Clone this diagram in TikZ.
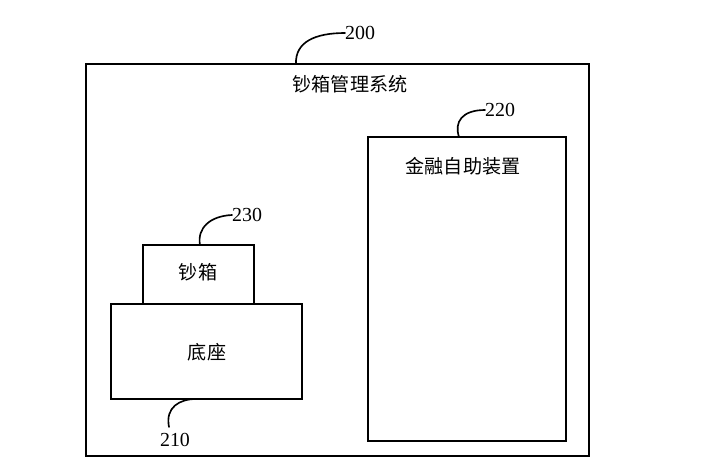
\documentclass[tikz,border=0pt]{standalone}
\usepackage{fontspec}
\setmainfont{Liberation Serif}
\newfontfamily\cjk{Noto Sans CJK SC}
\tikzset{
  frame/.style={draw=black, line width=1.4pt},
  leader/.style={draw=black, line width=1.4pt, line cap=round},
  boxtext/.style={font=\cjk\fontsize{16.3}{19}\selectfont},
  reflabel/.style={font=\fontsize{17}{20}\selectfont, inner sep=0pt},
}

\begin{document}
\begin{tikzpicture}[x=0.03cm, y=-0.03cm]
\useasboundingbox (0,0) rectangle (709,473);
% boxes
\draw[frame] (86,64) rectangle (589,456);
\draw[frame] (368,137) rectangle (566,441);
\draw[frame] (143,245) rectangle (254,304);
\draw[frame] (111,304) rectangle (302,399);
% texts
\node[boxtext] (system) at (350,84) {钞箱管理系统};
\node[boxtext] (device) at (463,166) {金融自助装置};
\node[boxtext] (cashbox) at (198,272) {钞箱};
\node[boxtext] (base) at (207,352) {底座};
% reference numbers
\node[reflabel, anchor=west] (n200) at (345,33) {200};
\node[reflabel, anchor=west] (n220) at (485,110) {220};
\node[reflabel, anchor=west] (n230) at (232,215) {230};
\node[reflabel] (n210) at (175,440) {210};
\coordinate (p200) at (296,64);
\coordinate (p220) at (459,137);
\coordinate (p230) at (200,245);
\coordinate (p210) at (196,399);
\coordinate (e210) at (169,427);
\draw[leader] (p200) .. controls (295,42) and (315,33) .. (n200.west);
\draw[leader] (p220) .. controls (454,122) and (462,110) .. (n220.west);
\draw[leader] (p230) .. controls (197,228) and (210,216) .. (n230.west);
\draw[leader] (p210) .. controls (180,399) and (165,407) .. (e210);
\end{tikzpicture}
\end{document}
